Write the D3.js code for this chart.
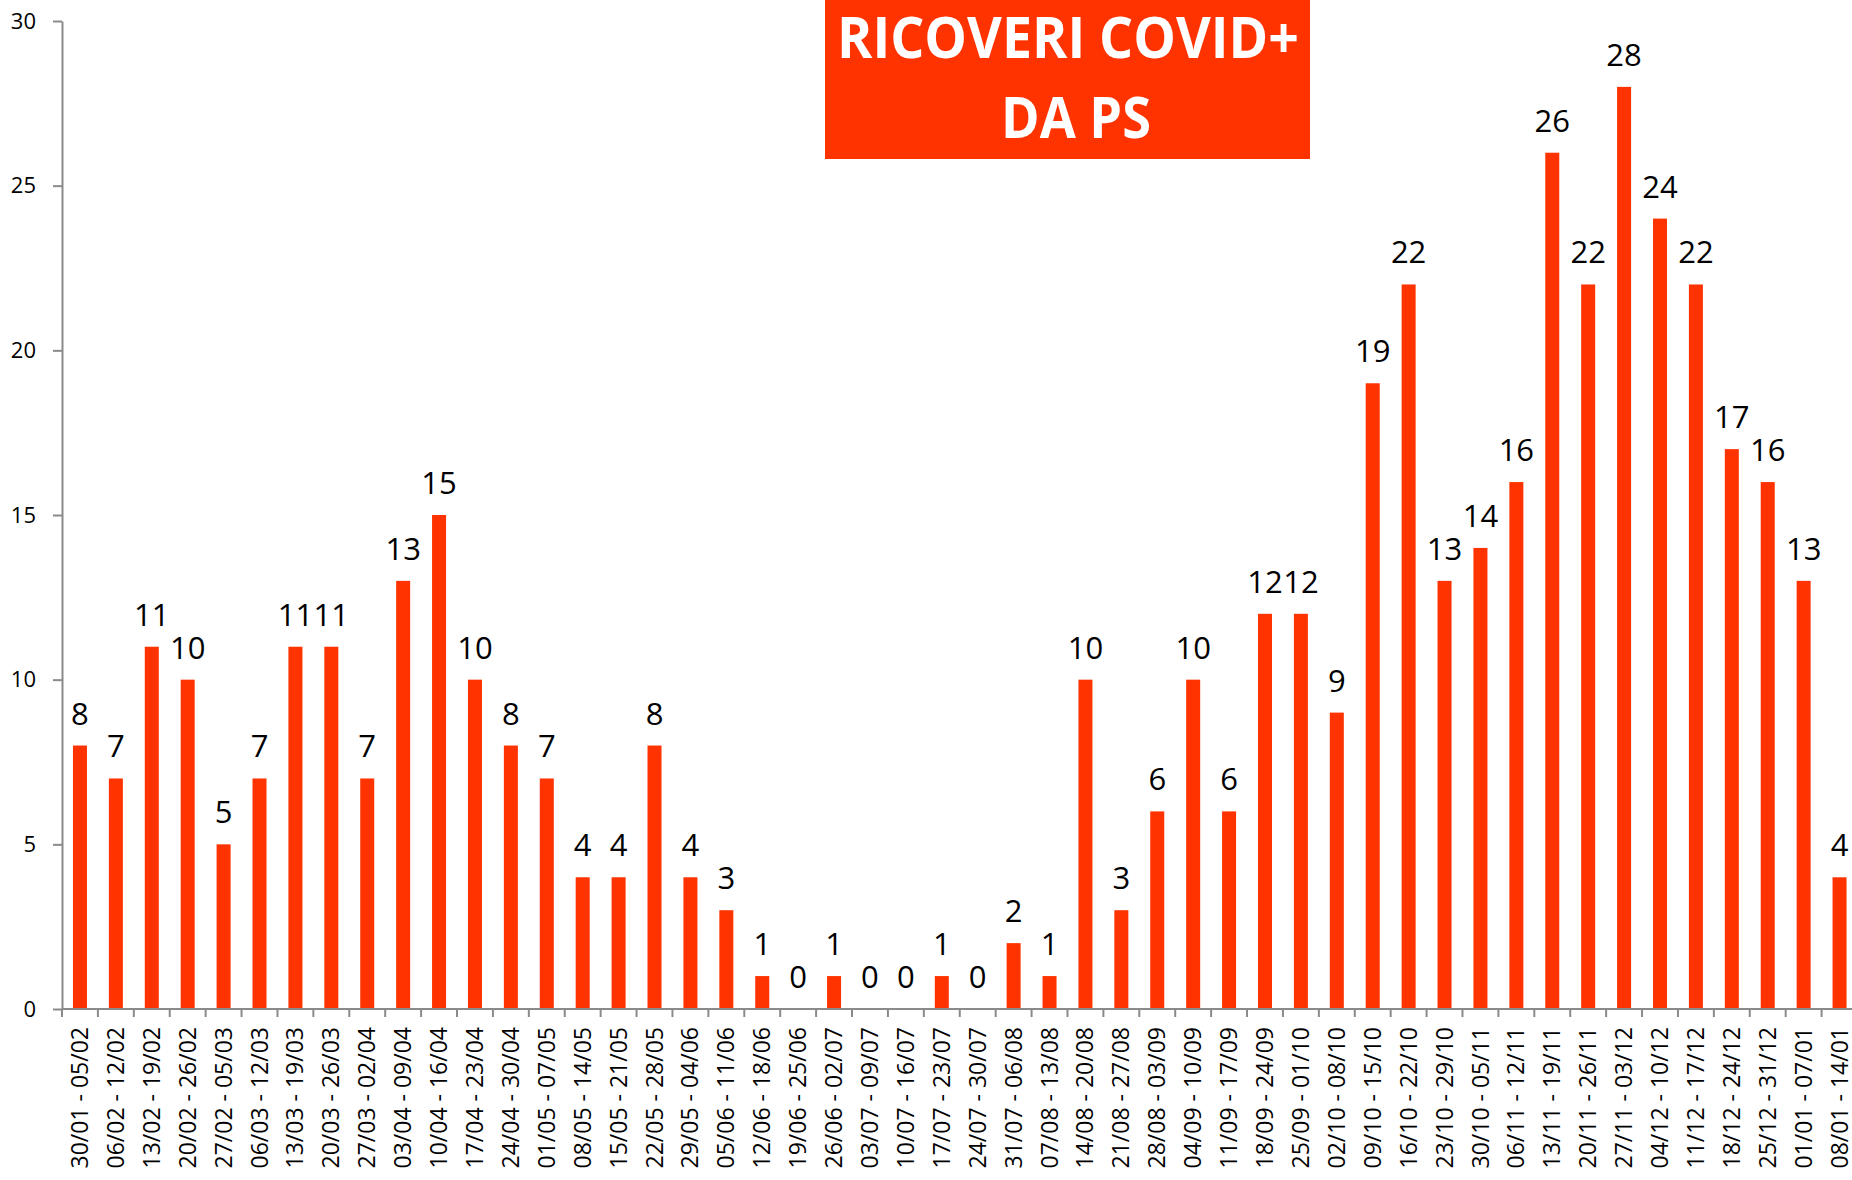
<!DOCTYPE html>
<html>
<head>
<meta charset="utf-8">
<script src="https://cdn.jsdelivr.net/npm/d3@7"></script>
<style>
  html, body { margin: 0; padding: 0; background: #ffffff; overflow: hidden; }
  svg { display: block; }
  text { font-family: "Open Sans", "DejaVu Sans", sans-serif; }
</style>
</head>
<body>
<svg id="chart" width="1852" height="1180"></svg>
<script>
const categories = [
  "30/01 - 05/02","06/02 - 12/02","13/02 - 19/02","20/02 - 26/02","27/02 - 05/03",
  "06/03 - 12/03","13/03 - 19/03","20/03 - 26/03","27/03 - 02/04","03/04 - 09/04",
  "10/04 - 16/04","17/04 - 23/04","24/04 - 30/04","01/05 - 07/05","08/05 - 14/05",
  "15/05 - 21/05","22/05 - 28/05","29/05 - 04/06","05/06 - 11/06","12/06 - 18/06",
  "19/06 - 25/06","26/06 - 02/07","03/07 - 09/07","10/07 - 16/07","17/07 - 23/07",
  "24/07 - 30/07","31/07 - 06/08","07/08 - 13/08","14/08 - 20/08","21/08 - 27/08",
  "28/08 - 03/09","04/09 - 10/09","11/09 - 17/09","18/09 - 24/09","25/09 - 01/10",
  "02/10 - 08/10","09/10 - 15/10","16/10 - 22/10","23/10 - 29/10","30/10 - 05/11",
  "06/11 - 12/11","13/11 - 19/11","20/11 - 26/11","27/11 - 03/12","04/12 - 10/12",
  "11/12 - 17/12","18/12 - 24/12","25/12 - 31/12","01/01 - 07/01","08/01 - 14/01"
];
const values = [
  8, 7, 11, 10, 5, 7, 11, 11, 7, 13,
  15, 10, 8, 7, 4, 4, 8, 4, 3, 1,
  0, 1, 0, 0, 1, 0, 2, 1, 10, 3,
  6, 10, 6, 12, 12, 9, 19, 22, 13, 14,
  16, 26, 22, 28, 24, 22, 17, 16, 13, 4
];
const yTicks = [0, 5, 10, 15, 20, 25, 30];
const titleLines = ["RICOVERI COVID+", "DA PS"];

const data = categories.map((c, i) => ({ cat: c, val: values[i] }));

const svg = d3.select("#chart");
const plotLeft = 62, step = 35.91, plotTop = 21, plotBottom = 1009;
const barColor = "#ff3300";
const axisColor = "#8a8a8a";

const x = d3.scaleBand()
  .domain(categories)
  .range([plotLeft, plotLeft + step * categories.length])
  .paddingInner(0).paddingOuter(0);

const y = d3.scaleLinear().domain([0, 30]).range([plotBottom, plotTop]);

const barW = x.bandwidth() * 0.39;

// Bars
svg.append("g").selectAll("rect")
  .data(data.filter(d => d.val > 0))
  .join("rect")
  .attr("x", d => x(d.cat) + (x.bandwidth() - barW) / 2)
  .attr("y", d => y(d.val))
  .attr("width", barW)
  .attr("height", d => y(0) - y(d.val))
  .attr("fill", barColor);

// Y axis
const yAxis = svg.append("g")
  .attr("transform", `translate(${plotLeft},0)`)
  .call(d3.axisLeft(y).tickValues(yTicks).tickSize(9).tickPadding(17).tickSizeOuter(0));
yAxis.select(".domain").attr("stroke", axisColor).attr("stroke-width", 2);
yAxis.selectAll(".tick line").attr("stroke", axisColor).attr("stroke-width", 2);
yAxis.selectAll(".tick text")
  .attr("fill", "#000")
  .style("font-size", "22px")
  .style("font-family", "'Open Sans', sans-serif");

// X axis
const xAxis = svg.append("g")
  .attr("transform", `translate(0,${plotBottom})`)
  .call(d3.axisBottom(x).tickSize(0).tickSizeOuter(0));
xAxis.select(".domain").remove();
xAxis.append("line")
  .attr("x1", plotLeft).attr("x2", 1852)
  .attr("y1", 0).attr("y2", 0)
  .attr("stroke", axisColor).attr("stroke-width", 2);
xAxis.selectAll(".tick text")
  .attr("transform", "rotate(-90)")
  .attr("text-anchor", "end")
  .attr("x", -18)
  .attr("y", 0)
  .attr("dy", "0.35em")
  .attr("fill", "#000")
  .style("font-size", "23px")
  .style("font-family", "'Open Sans', sans-serif");
// boundary tick marks
xAxis.append("g").selectAll("line")
  .data(categories)
  .join("line")
  .attr("x1", d => x(d)).attr("x2", d => x(d))
  .attr("y1", 0).attr("y2", 8)
  .attr("stroke", axisColor).attr("stroke-width", 2);

// Data labels
svg.append("g").selectAll("text")
  .data(data)
  .join("text")
  .attr("x", d => x(d.cat) + x.bandwidth() / 2)
  .attr("y", d => y(d.val) - 21)
  .attr("text-anchor", "middle")
  .attr("fill", "#000")
  .style("font-size", "31px")
  .text(d => d.val);

// Title box
const tg = svg.append("g");
tg.append("rect")
  .attr("x", 825).attr("y", 0)
  .attr("width", 485).attr("height", 159)
  .attr("fill", barColor);
tg.append("text")
  .attr("x", 1068).attr("y", 57.5)
  .attr("text-anchor", "middle")
  .attr("fill", "#fff")
  .style("font-size", "58px").style("font-weight", "bold")
  .attr("textLength", 462).attr("lengthAdjust", "spacingAndGlyphs")
  .text(titleLines[0]);
tg.append("text")
  .attr("x", 1076).attr("y", 138)
  .attr("text-anchor", "middle")
  .attr("fill", "#fff")
  .style("font-size", "58px").style("font-weight", "bold")
  .attr("textLength", 150).attr("lengthAdjust", "spacingAndGlyphs")
  .text(titleLines[1]);
</script>
</body>
</html>
